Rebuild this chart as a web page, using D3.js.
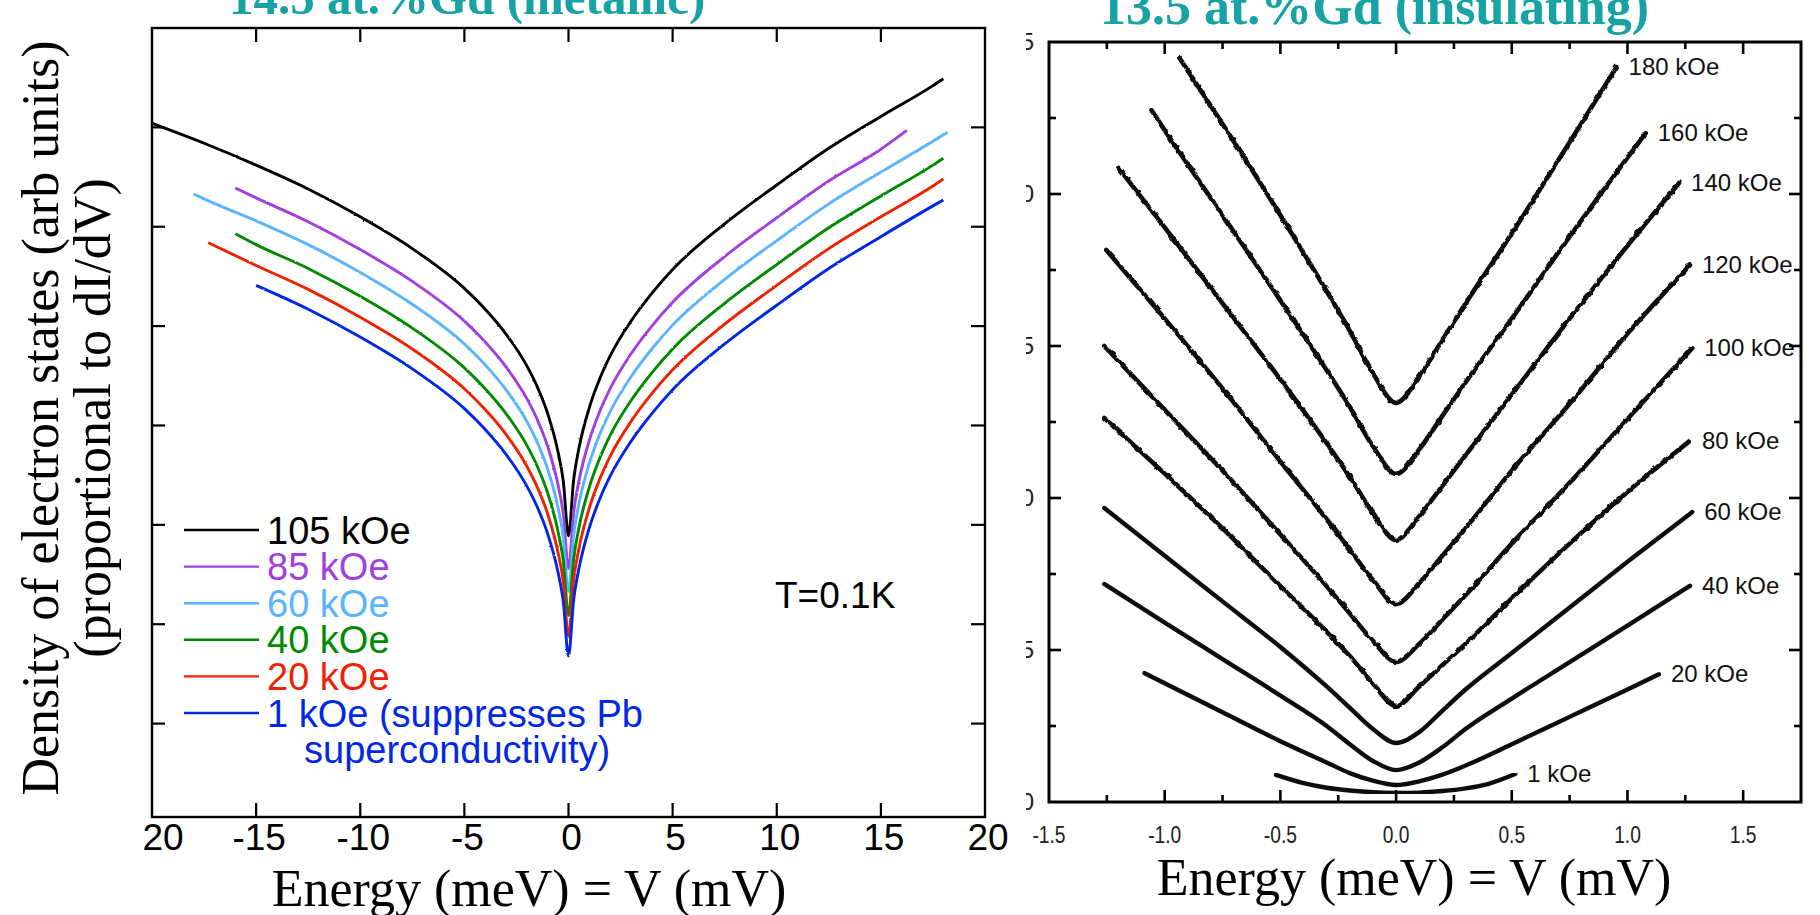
<!DOCTYPE html>
<html>
<head>
<meta charset="utf-8">
<script src="https://cdn.jsdelivr.net/npm/d3@7"></script>
<style>
  body { margin: 0; background: #fff; }
  svg { display: block; }
</style>
</head>
<body>
<svg id="chart" width="1820" height="915"></svg>
<script>
// ---------- Metallic film (left panel): dI/dV vs bias, one trace per field ----------
const metallicFields = ["105 kOe", "85 kOe", "60 kOe", "40 kOe", "20 kOe", "1 kOe (suppresses Pb"];
const metallicNote = "superconductivity)";
const metallic105 = [[-20,7.04],[-17.5,6.84],[-15,6.62],[-12.5,6.38],[-10,6.10],[-7.5,5.78],[-5,5.38],[-4,5.17],[-3,4.92],[-2,4.60],[-1.5,4.39],[-1,4.12],[-0.5,3.73],[-0.25,3.44],[0,2.89],[0.25,3.46],[0.5,3.77],[1,4.18],[1.5,4.47],[2,4.70],[3,5.05],[4,5.33],[5,5.57],[7.5,6.03],[10,6.42],[12.5,6.79],[15,7.11],[17.5,7.42],[18,7.49]];
const metallic85 = [[-16,6.39],[-15,6.29],[-12.5,6.05],[-10,5.77],[-7.5,5.45],[-5,5.05],[-4,4.84],[-3,4.59],[-2,4.27],[-1.5,4.06],[-1,3.79],[-0.5,3.40],[-0.25,3.11],[0,2.56],[0.25,3.13],[0.5,3.44],[1,3.85],[1.5,4.14],[2,4.37],[3,4.72],[4,5.00],[5,5.24],[7.5,5.70],[10,6.09],[12.5,6.46],[15,6.78],[16.25,6.97]];
const metallic60 = [[-18,6.33],[-17.5,6.28],[-15,6.06],[-12.5,5.82],[-10,5.54],[-7.5,5.22],[-5,4.82],[-4,4.61],[-3,4.36],[-2,4.04],[-1.5,3.83],[-1,3.56],[-0.5,3.17],[-0.25,2.88],[0,2.33],[0.25,2.90],[0.5,3.21],[1,3.62],[1.5,3.91],[2,4.14],[3,4.49],[4,4.77],[5,5.01],[7.5,5.47],[10,5.86],[12.5,6.23],[15,6.55],[17.5,6.86],[18.2,6.95]];
const metallic40 = [[-16,5.93],[-15,5.82],[-12.5,5.58],[-10,5.30],[-7.5,4.98],[-5,4.58],[-4,4.37],[-3,4.12],[-2,3.80],[-1.5,3.59],[-1,3.32],[-0.5,2.93],[-0.25,2.64],[0,2.09],[0.25,2.66],[0.5,2.97],[1,3.38],[1.5,3.67],[2,3.90],[3,4.25],[4,4.53],[5,4.77],[7.5,5.23],[10,5.62],[12.5,5.99],[15,6.31],[17.5,6.62],[18,6.69]];
const metallic20 = [[-17.3,5.84],[-15,5.61],[-12.5,5.37],[-10,5.09],[-7.5,4.77],[-5,4.37],[-4,4.16],[-3,3.91],[-2,3.59],[-1.5,3.38],[-1,3.11],[-0.5,2.72],[-0.25,2.43],[0,1.88],[0.25,2.45],[0.5,2.76],[1,3.17],[1.5,3.46],[2,3.69],[3,4.04],[4,4.32],[5,4.56],[7.5,5.02],[10,5.41],[12.5,5.78],[15,6.10],[17.5,6.41],[18,6.48]];
const metallic1 = [[-15,5.41],[-12.5,5.17],[-10,4.89],[-7.5,4.57],[-5,4.17],[-4,3.96],[-3,3.71],[-2,3.39],[-1.5,3.18],[-1,2.91],[-0.5,2.52],[-0.25,2.23],[0,1.68],[0.25,2.25],[0.5,2.56],[1,2.97],[1.5,3.26],[2,3.49],[3,3.84],[4,4.12],[5,4.36],[7.5,4.82],[10,5.21],[12.5,5.58],[15,5.90],[17.5,6.21],[18,6.27]];
const metallicTicksX = [-20, -15, -10, -5, 0, 5, 10, 15, 20];
const metallicTickLabels = ["20", "-15", "-10", "-5", "0", "5", "10", "15", "20"];
const metallicTicksY = [1, 2, 3, 4, 5, 6, 7];

// ---------- Insulating film (right panel) ----------
const insulatingFields = ["180 kOe", "160 kOe", "140 kOe", "120 kOe", "100 kOe", "80 kOe", "60 kOe", "40 kOe", "20 kOe", "1 kOe"];
const insulating180 = [[-0.936,24.47],[-0.75,22.3],[-0.5,19.3],[-0.3,16.8],[-0.2,15.5],[-0.1,14.1],[0,13.13],[0.1,14.0],[0.2,15.2],[0.3,16.4],[0.5,18.7],[0.75,21.7],[0.953,24.18]];
const insulating160 = [[-1.057,22.76],[-1.0,22.1],[-0.75,19.3],[-0.5,16.5],[-0.3,14.2],[-0.2,13.0],[-0.1,11.7],[0,10.79],[0.1,11.6],[0.2,12.7],[0.3,13.8],[0.5,15.9],[0.75,18.6],[1.0,21.2],[1.079,22.0]];
const insulating140 = [[-1.2,20.86],[-1.0,18.9],[-0.75,16.4],[-0.5,13.9],[-0.3,11.8],[-0.2,10.7],[-0.1,9.5],[0,8.62],[0.1,9.4],[0.2,10.4],[0.3,11.4],[0.5,13.4],[0.75,15.9],[1.0,18.3],[1.223,20.36]];
const insulating120 = [[-1.253,18.16],[-1.0,15.9],[-0.75,13.6],[-0.5,11.2],[-0.3,9.3],[-0.2,8.3],[-0.1,7.3],[0,6.51],[0.1,7.2],[0.2,8.1],[0.3,9.0],[0.5,10.9],[0.75,13.1],[1.0,15.4],[1.27,17.66]];
const insulating100 = [[-1.261,15.0],[-1.0,12.9],[-0.75,10.9],[-0.5,8.8],[-0.3,7.1],[-0.2,6.2],[-0.1,5.3],[0,4.61],[0.1,5.2],[0.2,6.0],[0.3,6.8],[0.5,8.5],[0.75,10.5],[1.0,12.6],[1.28,14.93]];
const insulating80 = [[-1.261,12.63],[-1.0,10.8],[-0.75,9.0],[-0.5,7.1],[-0.3,5.6],[-0.2,4.8],[-0.1,3.9],[0,3.16],[0.1,3.8],[0.2,4.5],[0.3,5.2],[0.5,6.7],[0.75,8.5],[1.0,10.2],[1.27,11.88]];
const insulating60 = [[-1.261,9.67],[-1.0,8.1],[-0.75,6.6],[-0.5,5.1],[-0.3,3.8],[-0.2,3.1],[-0.1,2.4],[0,1.94],[0.1,2.3],[0.2,3.0],[0.3,3.7],[0.5,4.9],[0.75,6.4],[1.0,7.9],[1.28,9.54]];
const insulating40 = [[-1.261,7.17],[-1.0,5.9],[-0.75,4.7],[-0.5,3.5],[-0.3,2.5],[-0.2,1.9],[-0.1,1.35],[0,1.05],[0.1,1.3],[0.2,1.8],[0.3,2.4],[0.5,3.4],[0.75,4.6],[1.0,5.8],[1.27,7.11]];
const insulating20 = [[-1.087,4.24],[-0.75,2.95],[-0.5,2.0],[-0.3,1.3],[-0.2,0.95],[-0.1,0.7],[0,0.56],[0.1,0.68],[0.2,0.9],[0.3,1.2],[0.5,1.9],[0.75,2.8],[1.0,3.7],[1.136,4.2]];
const insulating1 = [[-0.519,0.89],[-0.4,0.62],[-0.3,0.47],[-0.2,0.38],[-0.1,0.32],[0,0.30],[0.1,0.31],[0.2,0.36],[0.3,0.45],[0.4,0.6],[0.515,0.92]];
const insulatingMajorX = [-1.5, -1.0, -0.5, 0.0, 0.5, 1.0, 1.5];
const insulatingMinorX = [-1.25, -0.75, -0.25, 0.25, 0.75, 1.25];
const insulatingTickLabels = ["-1.5", "-1.0", "-0.5", "0.0", "0.5", "1.0", "1.5"];
const insulatingMajorY = [0, 5, 10, 15, 20, 25];
const insulatingMinorY = [2.5, 7.5, 12.5, 17.5, 22.5];
const insulatingYLabels = ["0", "5", "10", "15", "20", "25"];

const titles = ["14.5 at.%Gd (metallic)", "13.5 at.%Gd (insulating)"];
const xTitle = "Energy (meV) = V (mV)";
const yTitle = ["Density of electron states (arb units)", "(proportional to dI/dV)"];
const tempNote = "T=0.1K";

// ---------- styling ----------
const metallicSeries = [metallic105, metallic85, metallic60, metallic40, metallic20, metallic1];
const metallicColors = ["#000000", "#a040e0", "#5ab4ff", "#008a00", "#ee2200", "#0028e6"];
const insulatingSeries = [insulating180, insulating160, insulating140, insulating120, insulating100,
                          insulating80, insulating60, insulating40, insulating20, insulating1];
// high-field traces are visibly noisier than the low-field ones
const insulatingRough = [true, true, true, true, true, true, false, false, false, false];
const teal = "#17a3a3";
const sans = "'Liberation Sans', Arial, Helvetica, sans-serif";
const serif = "'Liberation Serif', 'Times New Roman', Times, serif";

const svg = d3.select("#chart");
svg.append("rect").attr("width", 1820).attr("height", 915).attr("fill", "#fff");

// measurement-noise look for the traces
const defs = svg.append("defs");
function jitterFilter(id, freq, amount, seed) {
  const f = defs.append("filter").attr("id", id).attr("x", "-5%").attr("y", "-5%")
    .attr("width", "110%").attr("height", "110%");
  f.append("feTurbulence").attr("type", "fractalNoise").attr("baseFrequency", freq)
    .attr("numOctaves", 1).attr("seed", seed).attr("result", "n");
  f.append("feDisplacementMap").attr("in", "SourceGraphic").attr("in2", "n")
    .attr("scale", amount).attr("xChannelSelector", "R").attr("yChannelSelector", "G");
}
jitterFilter("jitterFine", 0.35, 2.0, 3);
jitterFilter("jitterRough", 0.18, 3.6, 7);
jitterFilter("jitterSoft", 0.3, 1.4, 11);

// ================= left panel =================
const xL = d3.scaleLinear().domain([-20, 20]).range([152, 985]);
const yL = d3.scaleLinear().domain([0.06, 8]).range([817, 28]);
const gL = svg.append("g");

const lineL = d3.line().x(d => xL(d[0])).y(d => yL(d[1])).curve(d3.curveMonotoneX);
const tracesL = gL.append("g").attr("filter", "url(#jitterFine)");
metallicSeries.forEach((s, i) => {
  tracesL.append("path").attr("d", lineL(s)).attr("fill", "none")
    .attr("stroke", metallicColors[i]).attr("stroke-width", 2.9).attr("stroke-linejoin", "round");
});

// frame + inward ticks
gL.append("rect").attr("x", xL(-20)).attr("y", yL(8)).attr("width", xL(20) - xL(-20))
  .attr("height", yL(0.06) - yL(8)).attr("fill", "none").attr("stroke", "#000").attr("stroke-width", 2.4);
metallicTicksX.slice(1, -1).forEach(v => {
  gL.append("line").attr("x1", xL(v)).attr("x2", xL(v)).attr("y1", yL(0.06)).attr("y2", yL(0.06) - 14)
    .attr("stroke", "#000").attr("stroke-width", 2.2);
  gL.append("line").attr("x1", xL(v)).attr("x2", xL(v)).attr("y1", yL(8)).attr("y2", yL(8) + 14)
    .attr("stroke", "#000").attr("stroke-width", 2.2);
});
metallicTicksY.forEach(v => {
  gL.append("line").attr("x1", xL(-20)).attr("x2", xL(-20) + 13).attr("y1", yL(v)).attr("y2", yL(v))
    .attr("stroke", "#000").attr("stroke-width", 2.2);
  gL.append("line").attr("x1", xL(20)).attr("x2", xL(20) - 14).attr("y1", yL(v)).attr("y2", yL(v))
    .attr("stroke", "#000").attr("stroke-width", 2.2);
});
metallicTicksX.forEach((v, i) => {
  gL.append("text").attr("x", xL(v) + (i === 0 ? 11 : 3)).attr("y", 850)
    .attr("text-anchor", "middle").attr("font-family", sans).attr("font-size", 37)
    .attr("fill", "#000").text(metallicTickLabels[i]);
});

// legend
metallicFields.forEach((f, i) => {
  const y = 530 + i * 36.6;
  gL.append("line").attr("x1", 184).attr("x2", 259).attr("y1", y).attr("y2", y)
    .attr("stroke", metallicColors[i]).attr("stroke-width", 2.4);
  gL.append("text").attr("x", 267).attr("y", y + 13.5).attr("font-family", sans)
    .attr("font-size", 38).attr("fill", metallicColors[i]).text(f);
});
gL.append("text").attr("x", 304).attr("y", 530 + 6 * 36.6 + 13.5).attr("font-family", sans)
  .attr("font-size", 38).attr("fill", metallicColors[5]).text(metallicNote);
gL.append("text").attr("x", 775).attr("y", 608).attr("font-family", sans)
  .attr("font-size", 37).attr("fill", "#000").text(tempNote);

// titles
svg.append("text").attr("x", 229).attr("y", 14).attr("font-family", serif).attr("font-weight", "bold")
  .attr("font-size", 49).attr("fill", teal).text(titles[0]);
svg.append("text").attr("x", 529).attr("y", 906).attr("text-anchor", "middle")
  .attr("font-family", serif).attr("font-size", 52).attr("fill", "#000").text(xTitle);
const yT = svg.append("g").attr("font-family", serif).attr("font-size", 52).attr("fill", "#000");
yT.append("text").attr("transform", "translate(58,418) rotate(-90)").attr("text-anchor", "middle").text(yTitle[0]);
yT.append("text").attr("transform", "translate(110,418) rotate(-90)").attr("text-anchor", "middle").text(yTitle[1]);

// ================= right panel =================
const xR = d3.scaleLinear().domain([-1.5, 1.75]).range([1049, 1801]);
const yR = d3.scaleLinear().domain([0, 25]).range([802, 42]);
const gR = svg.append("g");

const lineR = d3.line().x(d => xR(d[0])).y(d => yR(d[1])).curve(d3.curveMonotoneX);
insulatingSeries.forEach((s, i) => {
  gR.append("path").attr("d", lineR(s)).attr("fill", "none")
    .attr("filter", insulatingRough[i] ? "url(#jitterRough)" : "url(#jitterSoft)")
    .attr("stroke", "#111").attr("stroke-width", insulatingRough[i] ? 4.6 : 4.4)
    .attr("stroke-linejoin", "round").attr("stroke-linecap", "round");
  const end = s[s.length - 1];
  gR.append("text").attr("x", xR(end[0]) + 12).attr("y", yR(end[1]) + 8)
    .attr("font-family", sans).attr("font-size", 24).attr("fill", "#111").text(insulatingFields[i]);
});

gR.append("rect").attr("x", xR(-1.5)).attr("y", yR(25)).attr("width", xR(1.75) - xR(-1.5))
  .attr("height", yR(0) - yR(25)).attr("fill", "none").attr("stroke", "#000").attr("stroke-width", 3);
const tickR = (x1, y1, x2, y2) => gR.append("line").attr("x1", x1).attr("y1", y1).attr("x2", x2).attr("y2", y2)
  .attr("stroke", "#000").attr("stroke-width", 2.6);
insulatingMajorX.slice(1).forEach(v => { tickR(xR(v), yR(0), xR(v), yR(0) - 12); tickR(xR(v), yR(25), xR(v), yR(25) + 12); });
insulatingMinorX.forEach(v => { tickR(xR(v), yR(0), xR(v), yR(0) - 7); tickR(xR(v), yR(25), xR(v), yR(25) + 7); });
insulatingMajorY.slice(1, -1).forEach(v => { tickR(xR(-1.5), yR(v), xR(-1.5) + 12, yR(v)); tickR(xR(1.75), yR(v), xR(1.75) - 12, yR(v)); });
insulatingMinorY.forEach(v => { tickR(xR(-1.5), yR(v), xR(-1.5) + 7, yR(v)); tickR(xR(1.75), yR(v), xR(1.75) - 7, yR(v)); });

insulatingMajorX.forEach((v, i) => {
  gR.append("text").attr("transform", `translate(${xR(v)},843) scale(0.8,1)`).attr("text-anchor", "middle")
    .attr("font-family", sans).attr("font-size", 24).attr("fill", "#222").text(insulatingTickLabels[i]);
});
// y tick labels of the insulating panel sit mostly outside its crop; only their right edge shows
svg.append("clipPath").attr("id", "ylabClip").append("rect").attr("x", 1026).attr("y", 0).attr("width", 20).attr("height", 915);
const yLab = gR.append("g").attr("clip-path", "url(#ylabClip)");
insulatingMajorY.forEach((v, i) => {
  yLab.append("text").attr("x", 1034).attr("y", yR(v) + 8).attr("text-anchor", "end")
    .attr("font-family", sans).attr("font-size", 24).attr("fill", "#222").text(insulatingYLabels[i]);
});

svg.append("text").attr("x", 1100).attr("y", 24).attr("font-family", serif).attr("font-weight", "bold")
  .attr("font-size", 52).attr("fill", teal).text(titles[1]);
svg.append("text").attr("x", 1414).attr("y", 895).attr("text-anchor", "middle")
  .attr("font-family", serif).attr("font-size", 52).attr("fill", "#000").text(xTitle);
</script>
</body>
</html>
